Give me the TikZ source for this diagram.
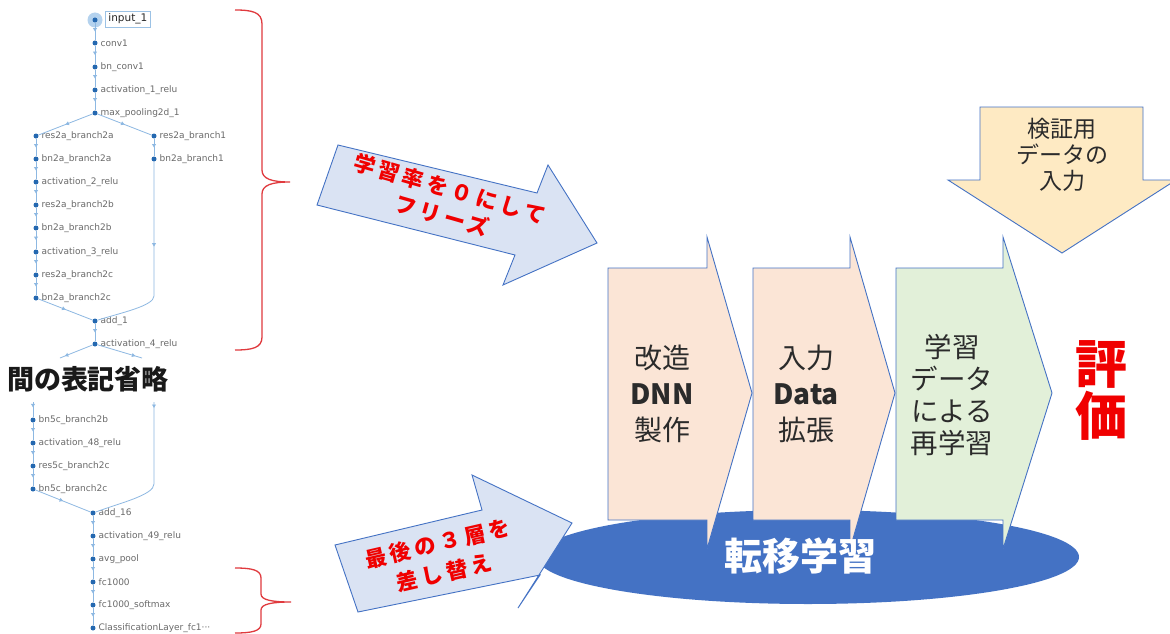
\documentclass[tikz,border=0pt]{standalone}
\usepackage{fontspec}
\newfontfamily\jp{Noto Sans CJK JP}
\newfontfamily\jpwide{Noto Sans CJK JP}[LetterSpace=18]
\newfontfamily\lab{DejaVu Sans}
\usetikzlibrary{arrows.meta,decorations.markings}
\definecolor{edgeblue}{HTML}{8DB8E2}
\definecolor{dotblue}{HTML}{2468B0}
\definecolor{halo}{HTML}{B4D2EE}
\definecolor{boxblue}{HTML}{9CC2E5}
\definecolor{labgrey}{HTML}{6A6A6A}
\definecolor{shapeline}{HTML}{4472C4}
\definecolor{arrowfill}{HTML}{DAE3F3}
\definecolor{peach}{HTML}{FBE5D6}
\definecolor{mint}{HTML}{E2F0D9}
\definecolor{sand}{HTML}{FEEAC3}
\definecolor{ellblue}{HTML}{4472C4}
\definecolor{bracered}{HTML}{E03A3E}
\definecolor{textred}{HTML}{F00000}
\definecolor{darktext}{HTML}{2B2B2B}
\newcommand{\netnode}[4]{%
  \node[netdot] (#1) at (#2,#3) {};
  \node[netlabel] (#1t) at (#2,#3) {#4};}
\begin{document}
\begin{tikzpicture}[x=1pt,y=-1pt,
  netdot/.style={circle,fill=dotblue,inner sep=0pt,minimum size=5pt},
  netlabel/.style={anchor=west,xshift=4.5pt,inner sep=1pt,text=labgrey,font=\lab\fontsize{9}{10}\selectfont},
  netedge/.style={draw=edgeblue,line width=0.8pt,postaction={decorate},
    decoration={markings,mark=at position #1 with {\arrow{Triangle[width=3.8pt,length=3.4pt]}}}},
  netedge/.default=0.5,
  brace/.style={draw=bracered,line width=1.3pt},
  blockarrow/.style={fill=arrowfill,draw=shapeline,line width=0.9pt,line join=miter},
  chevron/.style={draw=shapeline,line width=0.9pt,line join=miter},
  redtxt/.style={text=textred,font=\jpwide\bfseries\fontsize{21.5}{28}\selectfont,align=center,inner sep=0pt},
  chevtxt/.style={text=darktext,align=center,inner sep=0pt},
]
\useasboundingbox (0,0) rectangle (1170,634);
\clip (0,0) rectangle (1170,634);
\fill[white] (0,0) rectangle (1170,634);

% ---------- network graph, top part ----------
\node[circle,fill=halo,inner sep=0pt,minimum size=15pt] (a0h) at (95,20) {};
\node[netdot] (a0) at (95,20) {};
\node[draw=boxblue,line width=0.7pt,anchor=west,inner xsep=3pt,inner ysep=1pt,minimum height=16pt,
      text=black!85,font=\lab\fontsize{10.5}{11}\selectfont] (a0t) at (105,19) {input\_1};
\netnode{a1}{95}{43}{conv1}
\netnode{a2}{95}{67}{bn\_conv1}
\netnode{a3}{95}{90}{activation\_1\_relu}
\netnode{a4}{95}{113}{max\_pooling2d\_1}
\netnode{l1}{36}{136}{res2a\_branch2a}
\netnode{l2}{36}{159}{bn2a\_branch2a}
\netnode{l3}{36}{182}{activation\_2\_relu}
\netnode{l4}{36}{205}{res2a\_branch2b}
\netnode{l5}{36}{228}{bn2a\_branch2b}
\netnode{l6}{36}{252}{activation\_3\_relu}
\netnode{l7}{36}{275}{res2a\_branch2c}
\netnode{l8}{36}{298}{bn2a\_branch2c}
\netnode{r1}{154}{136}{res2a\_branch1}
\netnode{r2}{154}{159}{bn2a\_branch1}
\netnode{a5}{95}{321}{add\_1}
\netnode{a6}{95}{344}{activation\_4\_relu}
\coordinate (s1) at (60,358);
\coordinate (s2) at (142,358);

\draw[netedge] (a0) -- (a1);
\draw[netedge] (a1) -- (a2);
\draw[netedge] (a2) -- (a3);
\draw[netedge] (a3) -- (a4);
\draw[netedge] (a4) -- (l1);
\draw[netedge] (a4) -- (r1);
\draw[netedge] (l1) -- (l2);
\draw[netedge] (l2) -- (l3);
\draw[netedge] (l3) -- (l4);
\draw[netedge] (l4) -- (l5);
\draw[netedge] (l5) -- (l6);
\draw[netedge] (l6) -- (l7);
\draw[netedge] (l7) -- (l8);
\draw[netedge] (r1) -- (r2);
\draw[netedge=0.43] (r2) -- (154,296) .. controls (154,306) and (120,313) .. (a5);
\draw[netedge] (l8) -- (a5);
\draw[netedge] (a5) -- (a6);
\draw[netedge=0.85] (a6) -- (s1);
\draw[netedge=0.85] (a6) -- (s2);

\node[font=\jp\bfseries\fontsize{27}{30}\selectfont,text=black!90,inner sep=0pt] (skip) at (88,379) {間の表記省略};

% ---------- network graph, bottom part ----------
\coordinate (t1) at (33,402);
\coordinate (t2) at (154,402);
\netnode{b1}{33}{420}{bn5c\_branch2b}
\netnode{b2}{33}{443}{activation\_48\_relu}
\netnode{b3}{33}{466}{res5c\_branch2c}
\netnode{b4}{33}{489}{bn5c\_branch2c}
\netnode{c1}{93}{513}{add\_16}
\netnode{c2}{93}{536}{activation\_49\_relu}
\netnode{c3}{93}{559}{avg\_pool}
\netnode{c4}{93}{582}{fc1000}
\netnode{c5}{93}{605}{fc1000\_softmax}
\netnode{c6}{93}{628}{ClassificationLayer\_fc1···}

\draw[netedge=0.35] (t1) -- (b1);
\draw[netedge] (b1) -- (b2);
\draw[netedge] (b2) -- (b3);
\draw[netedge] (b3) -- (b4);
\draw[netedge=0.04] (t2) -- (154,484) .. controls (154,495) and (120,503) .. (c1);
\draw[netedge] (b4) -- (c1);
\draw[netedge] (c1) -- (c2);
\draw[netedge] (c2) -- (c3);
\draw[netedge] (c3) -- (c4);
\draw[netedge] (c4) -- (c5);
\draw[netedge] (c5) -- (c6);

% ---------- braces ----------
\draw[brace] (235,10) .. controls (252,10) and (262,12) .. (262,24) -- (262,170)
  .. controls (262,179) and (272,182) .. (290,182)
  .. controls (272,182) and (262,185) .. (262,194) -- (262,337)
  .. controls (262,348) and (252,350) .. (235,350);
\draw[brace] (235,568) .. controls (252,568) and (261,570) .. (261,578) -- (261,594)
  .. controls (261,600) and (272,602) .. (291,602)
  .. controls (272,602) and (261,604) .. (261,610) -- (261,624)
  .. controls (261,631) and (252,633) .. (235,633);

% ---------- ellipse ----------
\fill[ellblue] (808,557) ellipse [x radius=271pt, y radius=47pt];

% ---------- chevrons ----------
\draw[chevron,fill=peach] (608,268) -- (707,268) -- (707,237) -- (752,393) -- (707,549) -- (707,520) -- (608,520) -- cycle;
\draw[chevron,fill=peach] (753,268) -- (850,268) -- (850,237) -- (895,393) -- (850,549) -- (850,520) -- (753,520) -- cycle;
\draw[chevron,fill=mint] (896,268) -- (1003,268) -- (1003,237) -- (1052,393) -- (1003,549) -- (1003,520) -- (896,520) -- cycle;

% ---------- input arrow (top right) ----------
\draw[chevron,fill=sand] (980,107) -- (1143,107) -- (1143,180) -- (1176,180) -- (1062,253) -- (948,180) -- (980,180) -- cycle;

% ---------- blue block arrows ----------
\draw[blockarrow] (338,145) -- (537,193) -- (548,165) -- (597,243) -- (503,285) -- (515,255) -- (317,205) -- cycle;
\draw[blockarrow] (335,545) -- (482,510) -- (472,475) -- (572,523) -- (518,608) -- (540,575) -- (358,612) -- cycle;

% ---------- texts ----------
\node[redtxt,rotate=-16] (freeze) at (446,202) {学習率を０にして\\フリーズ};
\node[redtxt,rotate=13,font=\jpwide\bfseries\fontsize{21.5}{30}\selectfont] (replace) at (441,558) {最後の３層を\\差し替え};

\node[chevtxt,font=\jp\fontsize{28}{36}\selectfont] (step1) at (662,394) {改造\\\textbf{DNN}\\製作};
\node[chevtxt,font=\jp\fontsize{28}{36}\selectfont] (step2) at (806,394) {入力\\\textbf{Data}\\拡張};
\node[chevtxt,font=\jp\fontsize{27.5}{32}\selectfont] (step3) at (952,395) {学習\\データ\\による\\再学習};

\node[chevtxt,font=\jp\fontsize{23}{26}\selectfont] (valid) at (1062,155) {検証用\\データの\\入力};

\node[text=textred,font=\jp\bfseries\fontsize{52}{52}\selectfont,align=center,inner sep=0pt] (eval) at (1101,390) {評\\価};

\node[text=white,font=\jp\bfseries\fontsize{38}{40}\selectfont,inner sep=0pt] (tl) at (800,556) {転移学習};
\end{tikzpicture}
\end{document}
